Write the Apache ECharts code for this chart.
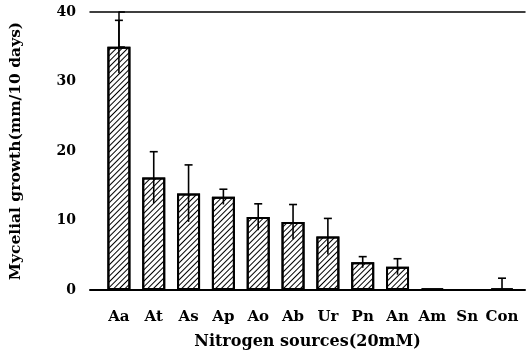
<!DOCTYPE html>
<html>
<head>
<meta charset="utf-8">
<script src="https://cdn.jsdelivr.net/npm/echarts@6/dist/echarts.min.js"></script>
<style>
html,body{margin:0;padding:0;background:#fff;}
#c{width:526px;height:357px;}
</style>
</head>
<body>
<div id="c"></div>
<script>
const categories = ['Aa','At','As','Ap','Ao','Ab','Ur','Pn','An','Am','Sn','Con'];
const growth = [35, 16.2, 13.9, 13.4, 10.5, 9.8, 7.7, 4.0, 3.35, 0.2, 0, 0.2];
const errors = [3.8, 3.7, 4.1, 1.1, 1.9, 2.5, 2.6, 0.8, 1.15, 0, 0, 1.5];
const yTicks = [0, 10, 20, 30, 40];

const FONT = '"DejaVu Serif", serif';
const chart = echarts.init(document.getElementById('c'), null, {renderer: 'canvas'});
const idx = categories.map((c, i) => i);
chart.setOption({
  animation: false,
  backgroundColor: '#fff',
  grid: {left: 89, right: 1, top: 12, bottom: 67},
  xAxis: [{
    type: 'value', min: -0.83, max: 11.66, position: 'bottom',
    splitLine: {show: false},
    axisLine: {show: true, lineStyle: {color: '#000', width: 2}},
    axisTick: {show: false},
    axisLabel: {
      customValues: idx, margin: 20,
      formatter: v => categories[Math.round(v)] || '',
      fontFamily: FONT, fontWeight: 'bold', fontSize: 15, color: '#000'
    },
    name: 'Nitrogen sources(20mM)', nameLocation: 'middle', nameGap: 44,
    nameTextStyle: {fontFamily: FONT, fontWeight: 'bold', fontSize: 16, color: '#000'}
  }, {
    type: 'value', min: -0.83, max: 11.66, position: 'top',
    splitLine: {show: false},
    axisLine: {show: true, lineStyle: {color: '#000', width: 1.5}},
    axisTick: {show: false}, axisLabel: {show: false}
  }],
  yAxis: {
    type: 'value', min: 0, max: 40, interval: 5,
    splitLine: {show: false},
    axisLine: {show: true, lineStyle: {color: '#000', width: 1.5}},
    axisTick: {show: true, inside: true, length: 6, lineStyle: {color: '#000', width: 1.5}},
    axisLabel: {
      margin: 14,
      formatter: v => yTicks.indexOf(v) >= 0 ? String(v) : '',
      fontFamily: FONT, fontWeight: 'bold', fontSize: 14, color: '#000'
    },
    name: 'Mycelial growth(mm/10 days)', nameLocation: 'middle', nameGap: 66,
    nameTextStyle: {fontFamily: FONT, fontWeight: 'bold', fontSize: 15.5, color: '#000'}
  },
  series: [{
    type: 'bar', xAxisIndex: 0, barWidth: 23,
    data: idx.map(i => [i, growth[i]]),
    itemStyle: {
      color: '#fff', borderColor: '#000', borderWidth: 2,
      decal: {symbol: 'rect', symbolSize: 1, dashArrayX: [1, 0], dashArrayY: [1, 2.2], rotation: -Math.PI / 4, color: '#000'}
    }
  }, {
    type: 'custom', xAxisIndex: 0,
    data: idx.map(i => [i, growth[i], errors[i]]),
    renderItem: function (params, api) {
      const x = api.value(0), v = api.value(1), e = api.value(2);
      if (!e) return null;
      const top = api.coord([x, v + e]);
      const bot = api.coord([x, Math.max(v - e, 0)]);
      const style = {stroke: '#000', lineWidth: 1.6};
      return {type: 'group', children: [
        {type: 'line', shape: {x1: top[0], y1: top[1], x2: bot[0], y2: bot[1]}, style: style},
        {type: 'line', shape: {x1: top[0] - 4, y1: top[1], x2: top[0] + 4, y2: top[1]}, style: style}
      ]};
    },
    z: 5
  }]
});
</script>
</body>
</html>
